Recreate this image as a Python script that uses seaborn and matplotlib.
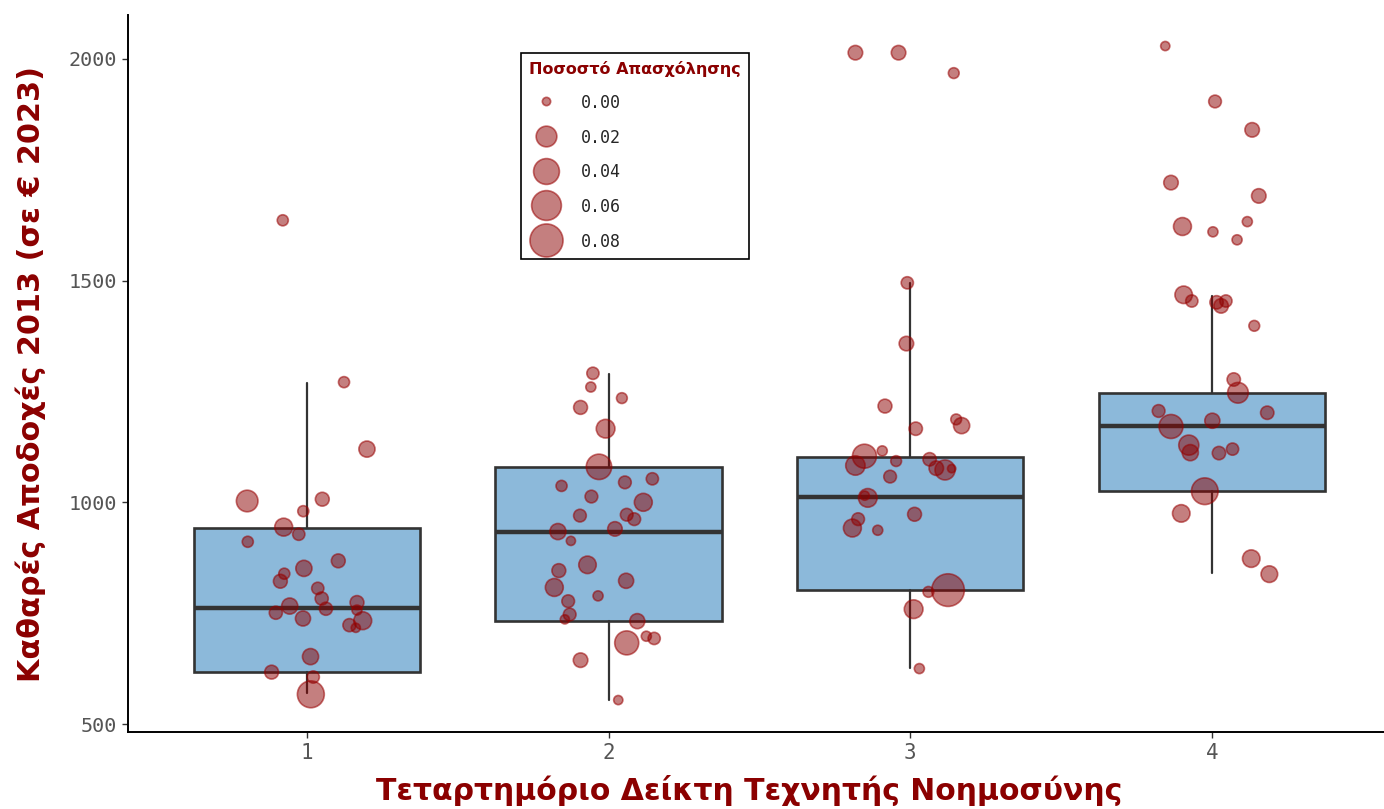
import numpy as np
import pandas as pd
import matplotlib
matplotlib.use("Agg")
import matplotlib.pyplot as plt
import seaborn as sns
from matplotlib.lines import Line2D

# ---------------- data ----------------
quartiles = ["1", "2", "3", "4"]
box_q1 = [617, 732, 802, 1026]
box_median = [762, 933, 1012, 1172]
box_q3 = [942, 1080, 1102, 1247]
whisker_low = [570, 554, 626, 841]
whisker_high = [1269, 1289, 1495, 1465]

g1_value = [1636, 1271, 1120, 1003, 1007, 980, 944, 928, 911, 868, 851, 839, 822, 806,
            783, 766, 760, 774, 757, 751, 738, 733, 723, 717, 652, 617, 606, 567]
g1_jitter = [-0.080, 0.123, 0.199, -0.198, 0.051, -0.012, -0.077, -0.027, -0.196, 0.104,
             -0.010, -0.075, -0.088, 0.036, 0.049, -0.057, 0.063, 0.166, 0.166, -0.103,
             -0.013, 0.185, 0.141, 0.162, 0.012, -0.117, 0.021, 0.013]
g1_share = [0.001, 0.001, 0.008, 0.023, 0.004, 0.001, 0.012, 0.002, 0.001, 0.004,
            0.008, 0.001, 0.004, 0.002, 0.003, 0.008, 0.003, 0.004, 0.0004, 0.003,
            0.006, 0.012, 0.003, 0.0001, 0.008, 0.004, 0.002, 0.045]

g2_value = [1291, 1260, 1235, 1214, 1166, 1080, 1037, 1045, 1053, 1013, 1000, 970, 972,
            962, 934, 940, 913, 859, 846, 808, 823, 789, 777, 747, 736, 732, 683, 698,
            693, 644, 554]
g2_jitter = [-0.052, -0.059, 0.044, -0.093, -0.010, -0.032, -0.156, 0.054, 0.145, -0.057,
             0.115, -0.095, 0.060, 0.085, -0.168, 0.021, -0.125, -0.070, -0.165, -0.180,
             0.058, -0.035, -0.134, -0.129, -0.145, 0.095, 0.060, 0.125, 0.151, -0.093,
             0.032]
g2_share = [0.002, 0.0004, 0.0008, 0.004, 0.014, 0.038, 0.001, 0.0025, 0.002, 0.0025,
            0.012, 0.0025, 0.0025, 0.0025, 0.008, 0.005, 0.0001, 0.011, 0.004, 0.012,
            0.006, 0.0004, 0.0025, 0.0025, 0.0001, 0.006, 0.032, 0.0004, 0.002, 0.005,
            0.0001]

g3_value = [2014, 2014, 1968, 1495, 1358, 1217, 1166, 1187, 1173, 1104, 1116, 1083, 1093,
            1097, 1077, 1073, 1076, 1058, 1010, 1015, 973, 962, 942, 937, 802, 798, 759,
            625]
g3_jitter = [-0.182, -0.039, 0.144, -0.010, -0.013, -0.084, 0.018, 0.152, 0.170, -0.152,
             -0.093, -0.182, -0.047, 0.064, 0.086, 0.115, 0.137, -0.067, -0.141, -0.151,
             0.014, -0.173, -0.192, -0.108, 0.125, 0.060, 0.011, 0.030]
g3_share = [0.005, 0.005, 0.0008, 0.002, 0.005, 0.004, 0.0033, 0.0008, 0.008, 0.032,
            0.0004, 0.016, 0.0008, 0.0033, 0.005, 0.018, 0.0, 0.0025, 0.014, 0.0001,
            0.004, 0.0025, 0.012, 0.0004, 0.077, 0.0008, 0.014, 0.0004]

g4_value = [2029, 1904, 1840, 1721, 1691, 1622, 1610, 1633, 1592, 1468, 1454, 1451, 1454,
            1443, 1398, 1277, 1247, 1206, 1202, 1184, 1171, 1129, 1112, 1111, 1120, 1025,
            975, 873, 838]
g4_jitter = [-0.155, 0.010, 0.133, -0.136, 0.155, -0.098, 0.003, 0.117, 0.083, -0.094,
             -0.067, 0.015, 0.046, 0.030, 0.140, 0.072, 0.086, -0.177, 0.183, 0.001,
             -0.136, -0.077, -0.072, 0.023, 0.068, -0.024, -0.102, 0.130, 0.190]
g4_share = [0.0001, 0.0025, 0.005, 0.005, 0.005, 0.012, 0.0004, 0.0004, 0.0004, 0.011,
            0.002, 0.0033, 0.002, 0.005, 0.0008, 0.0033, 0.020, 0.0025, 0.0033, 0.006,
            0.032, 0.018, 0.008, 0.0033, 0.002, 0.044, 0.011, 0.011, 0.009]

legend_levels = [0.00, 0.02, 0.04, 0.06, 0.08]
legend_labels = ["0.00", "0.02", "0.04", "0.06", "0.08"]

# ---------------- style ----------------
DARKRED = "#8B0000"
BOXBLUE = "#8CB9DA"
EDGE = "#333333"
POINT_FILL = (0.545, 0.0, 0.0, 0.5)
POINT_EDGE = (0.60, 0.0, 0.0, 0.55)
MONO = ["DejaVu Sans Mono"]
TITLE_FONT = ["DejaVu Sans"]

sns.set_theme(style="white")
plt.rcParams["font.family"] = ["DejaVu Sans"]


def marker_diam_pt(share):
    # ggplot-like size scale: diameter linear in sqrt(share)
    d_px = 8.3 + 24.8 * np.sqrt(np.asarray(share, dtype=float) / 0.08)
    return d_px * 72.0 / 100.0


# ---------------- build frame ----------------
groups = [(g1_value, g1_jitter, g1_share), (g2_value, g2_jitter, g2_share),
          (g3_value, g3_jitter, g3_share), (g4_value, g4_jitter, g4_share)]
rows = []
for gi, (vals, jit, sh) in enumerate(groups):
    for v, j, s in zip(vals, jit, sh):
        rows.append({"quartile": gi + 1, "xpos": gi + 1 + j, "value": v, "share": s})
df = pd.DataFrame(rows)
size_lookup = {s: float(marker_diam_pt(s)) ** 2 for s in df["share"].unique()}

fig = plt.figure(figsize=(13.84, 8.09), dpi=100)
ax = fig.add_axes([128 / 1384, 77 / 809, 1 - 128 / 1384, (732 - 15) / 809])

stats = []
for i in range(4):
    stats.append({"q1": box_q1[i], "med": box_median[i], "q3": box_q3[i],
                  "whislo": whisker_low[i], "whishi": whisker_high[i],
                  "fliers": [], "label": quartiles[i]})
ax.bxp(stats, positions=[1, 2, 3, 4], widths=0.75, patch_artist=True,
       showfliers=False, showcaps=False, manage_ticks=False,
       boxprops=dict(facecolor=BOXBLUE, edgecolor=EDGE, linewidth=1.9),
       medianprops=dict(color=EDGE, linewidth=3.2, solid_capstyle="butt"),
       whiskerprops=dict(color=EDGE, linewidth=1.6), zorder=1)

sns.scatterplot(data=df, x="xpos", y="value", size="share", sizes=size_lookup,
                color=POINT_FILL, edgecolor=POINT_EDGE, linewidth=1.2,
                legend=False, ax=ax, zorder=3)

ax.set_xlim(0.407, 4.57)
ax.set_ylim(482, 2099)
ax.set_xticks([1, 2, 3, 4])
ax.set_xticklabels(quartiles)
ax.set_yticks([500, 1000, 1500, 2000])

for side in ["top", "right"]:
    ax.spines[side].set_visible(False)
for side in ["left", "bottom"]:
    ax.spines[side].set_color("black")
    ax.spines[side].set_linewidth(1.4)

ax.tick_params(axis="both", which="major", length=4, width=1.0, color="#333333",
               labelcolor="#555555", labelsize=14.5, left=True, bottom=True, pad=4)
for lab in ax.get_yticklabels() + ax.get_xticklabels():
    lab.set_family(MONO)
for lab in ax.get_xticklabels():
    lab.set_fontsize(15)

ax.set_ylabel("Καθαρές Αποδοχές 2013 (σε € 2023)", color=DARKRED, fontsize=21.8,
              fontweight="bold", family=TITLE_FONT)
ax.set_xlabel("Τεταρτημόριο Δείκτη Τεχνητής Νοημοσύνης", color=DARKRED, fontsize=21.5,
              fontweight="bold", family=TITLE_FONT)
ax.yaxis.set_label_coords(-(128 - 46) / 1256, 0.5)
ax.xaxis.set_label_coords((749 - 128) / 1256, -(775 - 732) / 717)

handles = [Line2D([], [], marker="o", ls="", markersize=float(marker_diam_pt(v)),
                  markerfacecolor=POINT_FILL, markeredgecolor=POINT_EDGE,
                  markeredgewidth=1.2) for v in legend_levels]
leg = ax.legend(handles, legend_labels, title="Ποσοστό Απασχόλησης",
                loc="upper left", bbox_to_anchor=((521 - 128) / 1256, (732 - 53) / 717),
                frameon=True, fancybox=False, edgecolor="black", framealpha=1,
                prop={"family": MONO, "size": 12}, handleheight=1.0,
                labelspacing=1.0, handlelength=2.0, handletextpad=1.1,
                borderpad=0.5, borderaxespad=0)
leg.get_frame().set_linewidth(1.2)
leg.get_title().set_color(DARKRED)
leg.get_title().set_fontweight("bold")
leg.get_title().set_fontsize(11.5)
leg._legend_box.align = "left"

fig.savefig("out.png", dpi=100, facecolor="white")
